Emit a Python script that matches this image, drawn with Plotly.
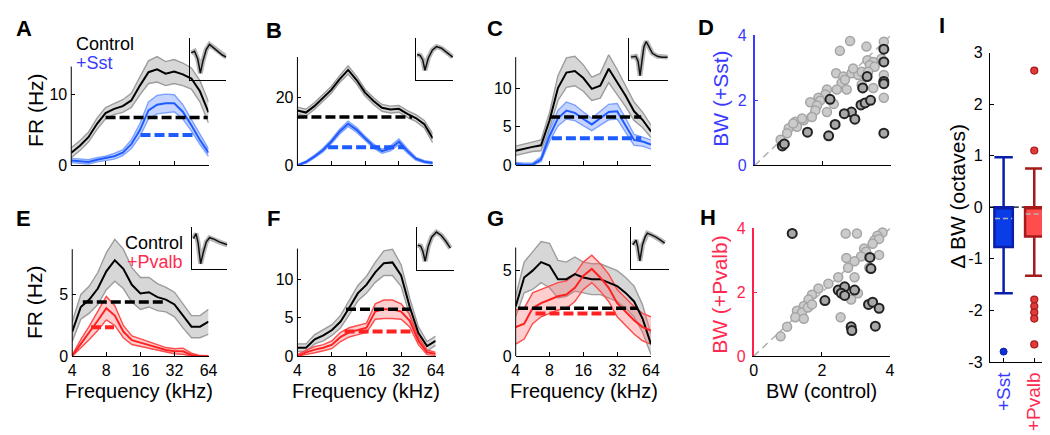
import plotly.graph_objects as go

W, H = 1050, 435
FONT = "Arial, Liberation Sans, Helvetica, sans-serif"

# ---------------- data ----------------
freq_khz = [4.0, 4.76, 5.66, 6.73, 8.0, 9.51, 11.31, 13.45, 16.0, 19.03, 22.63, 26.91, 32.0, 38.05, 45.25, 53.82, 64.0]
freq_ticks = [4, 8, 16, 32, 64]
freq_ticklabels = ["4", "8", "16", "32", "64"]

# Panel A (Control vs +Sst)
a_ctrl = [1.8, 2.8, 4.0, 5.9, 7.4, 8.0, 8.4, 9.2, 11.3, 13.2, 13.6, 13.0, 13.3, 12.9, 12.3, 10.5, 7.5]
a_ctrl_sem = [0.7, 0.7, 0.7, 0.8, 0.8, 0.8, 0.9, 1.0, 1.3, 1.6, 1.8, 1.7, 1.7, 1.6, 1.5, 1.5, 1.5]
a_sst = [0.7, 0.6, 0.5, 0.8, 1.0, 1.3, 1.8, 3.0, 5.0, 7.8, 8.6, 8.8, 8.8, 7.6, 5.7, 3.6, 1.8]
a_sst_sem = [0.3, 0.3, 0.3, 0.3, 0.3, 0.4, 0.4, 0.6, 0.9, 1.2, 1.3, 1.3, 1.2, 1.0, 0.8, 0.6, 0.5]
a_bw_ctrl_khz = [8.0, 63.0]
a_bw_ctrl_fr = 6.8
a_bw_sst_khz = [16.2, 48.5]
a_bw_sst_fr = 4.3

# Panel B
b_ctrl = [16.2, 15.6, 17.5, 19.8, 22.3, 25.5, 28.2, 25.2, 21.5, 19.0, 17.0, 16.5, 16.7, 15.2, 14.0, 12.2, 8.0]
b_ctrl_sem = [1.0, 1.0, 1.0, 1.0, 1.0, 1.0, 1.2, 1.1, 1.0, 1.0, 1.0, 1.0, 1.0, 1.0, 1.0, 1.1, 1.3]
b_sst = [0.0, 1.0, 2.6, 4.5, 7.0, 10.0, 12.3, 10.5, 8.0, 5.7, 4.2, 5.0, 7.0, 4.3, 2.0, 1.1, 0.7]
b_sst_sem = [0.2, 0.3, 0.4, 0.5, 0.6, 0.7, 0.8, 0.7, 0.6, 0.6, 0.6, 0.7, 0.8, 0.6, 0.4, 0.3, 0.3]
b_bw_ctrl_khz = [4.0, 41.9]
b_bw_ctrl_fr = 14.3
b_bw_sst_khz = [7.5, 35.5]
b_bw_sst_fr = 5.4

# Panel C
c_ctrl = [1.9, 2.2, 2.4, 2.6, 5.8, 10.0, 12.0, 12.2, 11.3, 9.9, 10.3, 12.5, 10.8, 9.0, 7.0, 5.9, 4.4]
c_ctrl_sem = [0.6, 0.6, 0.6, 0.7, 1.0, 1.6, 1.9, 1.9, 1.7, 1.5, 1.6, 1.8, 1.6, 1.4, 1.2, 1.0, 0.8]
c_sst = [0.2, 0.1, 0.1, 0.8, 3.8, 6.1, 7.1, 6.8, 6.0, 5.3, 6.1, 6.9, 7.0, 5.2, 3.3, 3.1, 2.7]
c_sst_sem = [0.2, 0.2, 0.2, 0.3, 0.7, 1.0, 1.1, 1.0, 0.9, 0.8, 0.9, 1.0, 1.0, 0.9, 0.7, 0.6, 0.6]
c_bw_ctrl_khz = [8.1, 52.4]
c_bw_ctrl_fr = 6.25
c_bw_sst_khz = [8.4, 52.4]
c_bw_sst_fr = 3.5

# Panel E (Control vs +Pvalb)
e_ctrl = [2.0, 4.0, 4.6, 5.5, 6.9, 7.8, 7.1, 5.8, 5.1, 5.2, 4.8, 4.6, 4.2, 3.3, 2.4, 2.4, 2.8]
e_ctrl_sem = [0.8, 1.0, 1.1, 1.3, 1.5, 1.7, 1.6, 1.4, 1.3, 1.2, 1.1, 1.0, 1.0, 1.0, 0.9, 0.9, 1.0]
e_pv = [0.05, 1.0, 1.9, 2.9, 3.9, 3.3, 2.0, 1.3, 1.1, 0.9, 0.7, 0.5, 0.4, 0.4, 0.1, 0.0, 0.0]
e_pv_sem = [0.05, 0.35, 0.55, 0.8, 0.95, 0.8, 0.5, 0.35, 0.3, 0.3, 0.25, 0.2, 0.2, 0.25, 0.15, 0.05, 0.03]
e_bw_ctrl_khz = [4.96, 27.3]
e_bw_ctrl_fr = 4.4
e_bw_pv_khz = [5.86, 9.36]
e_bw_pv_fr = 2.35

# Panel F
f_ctrl = [1.1, 1.1, 2.2, 2.7, 3.4, 4.5, 6.3, 8.2, 9.3, 10.9, 12.1, 12.2, 10.5, 6.4, 3.0, 1.3, 2.0]
f_ctrl_sem = [0.5, 0.5, 0.6, 0.7, 0.7, 0.8, 0.9, 1.0, 1.1, 1.3, 1.6, 1.7, 1.4, 1.1, 0.8, 0.6, 0.6]
f_pv = [0.0, 0.5, 0.85, 1.1, 1.5, 2.5, 3.1, 3.4, 3.7, 5.8, 6.1, 6.1, 5.8, 4.6, 2.0, 0.5, 0.3]
f_pv_sem = [0.2, 0.3, 0.4, 0.4, 0.5, 0.6, 0.6, 0.6, 0.6, 1.0, 1.2, 1.2, 1.0, 0.8, 0.5, 0.3, 0.2]
f_bw_ctrl_khz = [10.6, 38.6]
f_bw_ctrl_fr = 6.1
f_bw_pv_khz = [10.3, 38.6]
f_bw_pv_fr = 3.2

# Panel G
g_ctrl = [2.9, 4.6, 5.0, 5.5, 5.3, 4.5, 4.5, 4.8, 4.6, 4.5, 4.5, 4.3, 4.1, 3.7, 3.2, 2.2, 0.7]
g_ctrl_sem = [0.6, 0.9, 1.1, 1.2, 1.3, 1.1, 1.0, 1.0, 0.9, 0.9, 0.9, 0.9, 0.9, 0.9, 0.9, 0.8, 0.6]
g_pv = [1.7, 1.9, 2.8, 3.1, 3.3, 3.5, 3.6, 4.0, 4.7, 5.1, 4.6, 4.0, 3.1, 2.6, 2.1, 1.7, 1.5]
g_pv_sem = [1.0, 0.9, 0.9, 0.8, 0.8, 0.8, 0.8, 0.8, 0.8, 0.8, 0.8, 0.8, 0.8, 0.8, 0.8, 0.8, 0.8]
g_bw_ctrl_khz = [4.2, 48.8]
g_bw_ctrl_fr = 2.8
g_bw_pv_khz = [6.0, 32.4]
g_bw_pv_fr = 2.5

# Spike waveform insets (normalised time, normalised amplitude)
wf_a_t = [0.04, 0.13, 0.22, 0.29, 0.36, 0.45, 0.54, 0.64, 0.76, 0.89, 1.0]
wf_a_v = [0.65, 0.69, 0.50, 0.17, 0.46, 0.73, 0.85, 0.78, 0.69, 0.60, 0.55]
wf_b_t = [0.03, 0.11, 0.18, 0.24, 0.33, 0.44, 0.55, 0.68, 0.81, 0.91, 0.98]
wf_b_v = [0.61, 0.59, 0.49, 0.24, 0.53, 0.72, 0.80, 0.76, 0.67, 0.59, 0.55]
wf_c_t = [0.04, 0.17, 0.23, 0.28, 0.34, 0.38, 0.44, 0.51, 0.60, 0.73, 0.85, 1.0]
wf_c_v = [0.55, 0.57, 0.45, 0.11, 0.53, 0.79, 0.92, 0.79, 0.64, 0.57, 0.55, 0.55]
wf_e_t = [0.05, 0.12, 0.18, 0.25, 0.32, 0.41, 0.50, 0.64, 0.77, 0.91, 1.0]
wf_e_v = [0.73, 0.85, 0.62, 0.12, 0.38, 0.65, 0.75, 0.71, 0.65, 0.60, 0.58]
wf_f_t = [0.02, 0.10, 0.16, 0.22, 0.30, 0.39, 0.52, 0.65, 0.78, 0.89]
wf_f_v = [0.58, 0.56, 0.43, 0.20, 0.55, 0.77, 0.89, 0.81, 0.66, 0.51]
wf_g_t = [0.04, 0.13, 0.17, 0.23, 0.30, 0.37, 0.43, 0.52, 0.65, 0.78, 0.89]
wf_g_v = [0.58, 0.69, 0.54, 0.19, 0.58, 0.77, 0.86, 0.83, 0.77, 0.69, 0.62]

# Panel D scatter: BW control vs BW +Sst (octaves)
d_gray_x = [2.80, 3.28, 2.50, 3.79, 3.31, 3.48, 3.38, 3.52, 2.39, 2.60, 2.84, 3.04, 3.14, 3.79, 3.79, 2.55,
            3.48, 2.12, 2.41, 2.70, 2.07, 1.87, 1.63, 1.92, 1.83, 2.32, 2.12, 1.78, 1.44, 1.68, 1.19, 1.00,
            1.24, 0.95, 0.76, 3.79, 3.33, 2.65, 2.89, 1.13, 1.39, 3.72, 3.14]
d_gray_y = [3.82, 3.65, 3.52, 3.80, 3.23, 3.18, 3.08, 3.03, 2.83, 2.73, 2.83, 2.78, 2.88, 2.78, 2.58, 2.53,
            2.38, 2.33, 2.33, 2.33, 2.18, 2.08, 1.94, 1.99, 1.84, 1.89, 1.64, 1.69, 1.39, 1.49, 1.34, 1.14,
            1.19, 0.99, 0.79, 2.08, 2.88, 2.63, 2.98, 1.29, 1.44, 3.28, 2.48]
d_black_x = [3.79, 3.79, 3.30, 3.79, 3.79, 2.21, 3.17, 3.12, 3.24, 3.40, 2.84, 2.63, 2.94, 2.36, 1.55, 2.17, 3.79, 0.81, 0.87]
d_black_y = [3.57, 3.18, 2.73, 2.58, 2.51, 2.03, 2.38, 1.86, 1.92, 2.00, 1.64, 1.59, 1.42, 1.26, 1.02, 0.91, 0.99, 0.60, 0.66]

# Panel H scatter: BW control vs BW +Pvalb (octaves)
h_gray_x = [2.70, 3.03, 3.78, 3.63, 3.54, 3.68, 3.49, 3.24, 3.30, 3.15, 3.68, 2.72, 2.96, 2.77, 2.96, 2.48,
            2.19, 1.90, 2.62, 3.06, 1.71, 1.61, 1.47, 1.27, 1.42, 1.59, 1.71, 1.22, 1.47, 0.98, 0.79, 2.55,
            2.86, 3.39]
h_gray_y = [3.84, 3.84, 3.87, 3.77, 3.62, 3.67, 3.52, 3.37, 3.27, 3.12, 3.17, 3.07, 2.97, 2.77, 2.47, 2.47,
            2.27, 2.12, 2.12, 1.97, 1.92, 1.77, 1.57, 1.42, 1.37, 1.52, 1.62, 1.22, 1.17, 0.92, 0.62, 1.22,
            1.77, 2.77]
h_black_x = [1.13, 3.41, 3.44, 2.09, 2.48, 2.67, 2.57, 2.67, 2.96, 3.37, 3.49, 3.68, 2.86, 2.88, 3.57]
h_black_y = [3.84, 3.09, 2.74, 1.74, 2.07, 2.17, 1.97, 1.90, 2.07, 1.62, 1.69, 1.50, 0.92, 0.80, 0.94]
unity_line = [0, 4]

# Panel I: change in bandwidth (octaves), box summaries
box_groups = ["+Sst", "+Pvalb"]
box_pos = [1, 2]
box_q1 = [-0.77, -0.57]
box_median = [-0.22, -0.13]
box_q3 = [0.0, 0.0]
box_low = [-1.67, -1.33]
box_high = [0.97, 0.75]
sst_outliers = [-2.8]
pv_outliers = [2.65, 1.1, -1.79, -1.92, -2.04, -2.16, -2.66]

# ---------------- styling ----------------
BLACK = "#000000"
CTRL_FILL = "rgba(175,175,175,0.5)"
CTRL_EDGE = "#9c9c9c"
SST = "#1f5cff"
SST_FILL = "rgba(110,150,255,0.40)"
SST_EDGE = "#7ea0ff"
PV = "#ff2222"
PV_FILL = "rgba(255,110,110,0.33)"
PV_EDGE = "#ff4a4a"
SST_TXT = "#3a3aff"
PV_TXT = "#ff2a50"

fig = go.Figure()


def ref(n, kind):
    return kind if n == 1 else f"{kind}{n}"


def xdom(p0, p1):
    return [p0 / W, p1 / W]


def ydom(ptop, pbot):
    return [1 - pbot / H, 1 - ptop / H]


shapes = []
layout_axes = {}


def tuning_panel(n, xpx, y0px, scale, axis_top, range_top, yticks, show_xlabels,
                 ctrl, ctrl_sem, manip, manip_sem, mcol, mfill, medge,
                 bw_ctrl, bw_ctrl_lvl, bw_m, bw_m_lvl):
    xa, ya = ref(n, "x"), ref(n, "y")
    top_px = y0px - range_top * scale
    layout_axes["xaxis" if n == 1 else f"xaxis{n}"] = dict(
        domain=xdom(*xpx), anchor=ya, type="log", range=[0.60206, 1.80618],
        showline=True, linecolor="black", linewidth=1, mirror=False,
        ticks="inside", ticklen=4, tickcolor="black",
        tickvals=freq_ticks if show_xlabels else [8, 16, 32],
        ticktext=freq_ticklabels if show_xlabels else ["", "", ""],
        showticklabels=show_xlabels, showgrid=False, zeroline=False,
        tickfont=dict(size=16, color="black", family=FONT), ticklabelstandoff=0,
    )
    layout_axes["yaxis" if n == 1 else f"yaxis{n}"] = dict(
        domain=ydom(top_px, y0px), anchor=xa, range=[0, range_top],
        showline=False, ticks="inside", ticklen=4, tickcolor="black",
        tickvals=yticks, showgrid=False, zeroline=False,
        tickfont=dict(size=16, color="black", family=FONT), ticklabelstandoff=3,
    )
    shapes.append(dict(type="line", xref=f"{xa} domain", yref=ya, x0=0, x1=0, y0=0, y1=axis_top,
                       line=dict(color="black", width=1)))
    for mean, sem, fillc, edgec in [(ctrl, ctrl_sem, CTRL_FILL, CTRL_EDGE), (manip, manip_sem, mfill, medge)]:
        up = [m + s for m, s in zip(mean, sem)]
        lo = [max(m - s, 0) for m, s in zip(mean, sem)]
        fig.add_trace(go.Scatter(x=freq_khz + freq_khz[::-1], y=up + lo[::-1], fill="toself",
                                 fillcolor=fillc, line=dict(width=0), mode="lines",
                                 xaxis=xa, yaxis=ya, hoverinfo="skip", showlegend=False))
        for edge in (up, lo):
            fig.add_trace(go.Scatter(x=freq_khz, y=edge, mode="lines", line=dict(color=edgec, width=1.4),
                                     xaxis=xa, yaxis=ya, hoverinfo="skip", showlegend=False))
    fig.add_trace(go.Scatter(x=freq_khz, y=ctrl, mode="lines", line=dict(color=BLACK, width=2),
                             xaxis=xa, yaxis=ya, showlegend=False))
    fig.add_trace(go.Scatter(x=freq_khz, y=manip, mode="lines", line=dict(color=mcol, width=2),
                             xaxis=xa, yaxis=ya, showlegend=False))
    fig.add_trace(go.Scatter(x=bw_ctrl, y=[bw_ctrl_lvl] * 2, mode="lines",
                             line=dict(color=BLACK, width=3.5, dash="10px,4px"),
                             xaxis=xa, yaxis=ya, showlegend=False))
    fig.add_trace(go.Scatter(x=bw_m, y=[bw_m_lvl] * 2, mode="lines",
                             line=dict(color=mcol, width=4, dash="10px,4px"),
                             xaxis=xa, yaxis=ya, showlegend=False))


tuning_panel(1, (60, 199), 155.5, 7.35, 14, 16, [0, 10], False, a_ctrl, a_ctrl_sem, a_sst, a_sst_sem,
             SST, SST_FILL, SST_EDGE, a_bw_ctrl_khz, a_bw_ctrl_fr, a_bw_sst_khz, a_bw_sst_fr)
tuning_panel(2, (289, 426), 155.5, 3.525, 32, 32, [0, 20], False, b_ctrl, b_ctrl_sem, b_sst, b_sst_sem,
             SST, SST_FILL, SST_EDGE, b_bw_ctrl_khz, b_bw_ctrl_fr, b_bw_sst_khz, b_bw_sst_fr)
tuning_panel(3, (510, 647), 155.5, 8.05, 14, 14.6, [0, 5, 10], False, c_ctrl, c_ctrl_sem, c_sst, c_sst_sem,
             SST, SST_FILL, SST_EDGE, c_bw_ctrl_khz, c_bw_ctrl_fr, c_bw_sst_khz, c_bw_sst_fr)
tuning_panel(4, (61, 199), 354, 12.8, 8.7, 9.8, [0, 5], True, e_ctrl, e_ctrl_sem, e_pv, e_pv_sem,
             PV, PV_FILL, PV_EDGE, e_bw_ctrl_khz, e_bw_ctrl_fr, e_bw_pv_khz, e_bw_pv_fr)
tuning_panel(5, (289, 429), 354, 8.0, 14, 14.6, [0, 5, 10], True, f_ctrl, f_ctrl_sem, f_pv, f_pv_sem,
             PV, PV_FILL, PV_EDGE, f_bw_ctrl_khz, f_bw_ctrl_fr, f_bw_pv_khz, f_bw_pv_fr)
tuning_panel(6, (510, 647), 354, 17.8, 6.35, 7.0, [0, 5], True, g_ctrl, g_ctrl_sem, g_pv, g_pv_sem,
             PV, PV_FILL, PV_EDGE, g_bw_ctrl_khz, g_bw_ctrl_fr, g_bw_pv_khz, g_bw_pv_fr)


# ---------- scatter panels D (7) and H (8) ----------
def scatter_panel(n, xpx, ypx, ycol, show_xlabels, gx, gy, bx, by):
    xa, ya = ref(n, "x"), ref(n, "y")
    layout_axes[f"xaxis{n}"] = dict(
        domain=xdom(*xpx), anchor=ya, range=[0, 4], showline=True, linecolor="black", linewidth=1,
        ticks="inside", ticklen=4, tickcolor="black", tickvals=[0, 2, 4], showticklabels=show_xlabels,
        showgrid=False, zeroline=False, tickfont=dict(size=16, color="black", family=FONT),
        ticklabelstandoff=0)
    layout_axes[f"yaxis{n}"] = dict(
        domain=ydom(*ypx), anchor=xa, range=[0, 4], showline=True, linecolor=ycol, linewidth=1.5,
        ticks="inside", ticklen=4, tickcolor=ycol, tickvals=[0, 2, 4], showgrid=False, zeroline=False,
        tickfont=dict(size=16, color=ycol, family=FONT), ticklabelstandoff=3)
    fig.add_trace(go.Scatter(x=unity_line, y=unity_line, mode="lines",
                             line=dict(color="#b0b0b0", width=1.5, dash="7px,5px"),
                             xaxis=xa, yaxis=ya, showlegend=False, hoverinfo="skip"))
    fig.add_trace(go.Scatter(x=gx, y=gy, mode="markers",
                             marker=dict(size=9, color="#cbcbcb", line=dict(color="#a4a4a4", width=1.5)),
                             xaxis=xa, yaxis=ya, showlegend=False, cliponaxis=False))
    fig.add_trace(go.Scatter(x=bx, y=by, mode="markers",
                             marker=dict(size=9, color="#a8a8a8", line=dict(color="#222222", width=2)),
                             xaxis=xa, yaxis=ya, showlegend=False, cliponaxis=False))


scatter_panel(7, (752, 890), (20, 155.5), SST_TXT, False, d_gray_x, d_gray_y, d_black_x, d_black_y)
scatter_panel(8, (751, 889), (221, 354), "#ff1f4f", True, h_gray_x, h_gray_y, h_black_x, h_black_y)

# ---------- panel I (9): box plots ----------
layout_axes["xaxis9"] = dict(
    domain=xdom(990, 1050), anchor="y9", range=[0.548, 2.48], showline=True, linecolor="black",
    linewidth=1, ticks="inside", ticklen=4, tickcolor="black", tickvals=box_pos,
    ticktext=[f"<span style='color:{SST_TXT}'>{box_groups[0]}</span>",
              f"<span style='color:{PV_TXT}'>{box_groups[1]}</span>"],
    tickangle=-90, showgrid=False, zeroline=False, tickfont=dict(size=19, family=FONT),
    ticklabelstandoff=2)
layout_axes["yaxis9"] = dict(
    domain=ydom(38, 360), anchor="x9", range=[-3, 3], showline=True, linecolor="black", linewidth=1,
    ticks="inside", ticklen=4, tickcolor="black", tickvals=[-3, -2, -1, 0, 1, 2, 3],
    ticktext=["-3", "-2", "-1", "0", "1", "2", "3"], showgrid=False, zeroline=False,
    tickfont=dict(size=16, color="black", family=FONT), ticklabelstandoff=3)
shapes.append(dict(type="line", xref="x9 domain", yref="y9", x0=0, x1=1, y0=0, y1=0, layer="below",
                   line=dict(color="black", width=1.2, dash="5px,3px")))

box_fill = ["#0a3ce8", "#ff4d4d"]
box_edge = ["#0a1fa6", "#a51a1a"]
for i in range(2):
    fig.add_trace(go.Box(x=[box_pos[i]], q1=[box_q1[i]], median=[box_q3[i]], q3=[box_q3[i]],
                         lowerfence=[box_low[i]], upperfence=[box_high[i]], width=0.6,
                         whiskerwidth=1, fillcolor=box_fill[i], line=dict(color=box_edge[i], width=2.5),
                         boxpoints=False, xaxis="x9", yaxis="y9", showlegend=False))
    fig.add_trace(go.Scatter(x=[box_pos[i] - 0.28, box_pos[i] + 0.28], y=[box_median[i]] * 2, mode="lines",
                             line=dict(color="#b4b4b4", width=1.5, dash="5px,3px"),
                             xaxis="x9", yaxis="y9", showlegend=False))
fig.add_trace(go.Scatter(x=[box_pos[0]] * len(sst_outliers), y=sst_outliers, mode="markers",
                         marker=dict(size=7, color="#1030d8", line=dict(color="#0a1fa6", width=1)),
                         xaxis="x9", yaxis="y9", showlegend=False, cliponaxis=False))
fig.add_trace(go.Scatter(x=[box_pos[1]] * len(pv_outliers), y=pv_outliers, mode="markers",
                         marker=dict(size=7, color="#e03a3a", line=dict(color="#a51a1a", width=1.2)),
                         xaxis="x9", yaxis="y9", showlegend=False, cliponaxis=False))

# ---------- waveform insets (10..15) ----------
insets = [
    (10, (180, 217), (23, 67), wf_a_t, wf_a_v),
    (11, (409, 447), (23, 67), wf_b_t, wf_b_v),
    (12, (625, 664), (23, 67), wf_c_t, wf_c_v),
    (13, (182, 218), (220, 263), wf_e_t, wf_e_v),
    (14, (410, 448), (220, 264), wf_f_t, wf_f_v),
    (15, (627, 665), (220, 263), wf_g_t, wf_g_v),
]
for n, xp, yp, t, v in insets:
    layout_axes[f"xaxis{n}"] = dict(domain=xdom(*xp), anchor=f"y{n}", range=[0, 1], showline=True,
                                    linecolor="black", linewidth=1, ticks="", showticklabels=False,
                                    showgrid=False, zeroline=False)
    layout_axes[f"yaxis{n}"] = dict(domain=ydom(*yp), anchor=f"x{n}", range=[0, 1], showline=True,
                                    linecolor="black", linewidth=1, ticks="", showticklabels=False,
                                    showgrid=False, zeroline=False)
    fig.add_trace(go.Scatter(x=t, y=v, mode="lines", line=dict(color="#b8b8b8", width=5),
                             xaxis=f"x{n}", yaxis=f"y{n}", showlegend=False, hoverinfo="skip"))
    fig.add_trace(go.Scatter(x=t, y=v, mode="lines", line=dict(color="#111111", width=1.5),
                             xaxis=f"x{n}", yaxis=f"y{n}", showlegend=False))

# ---------- text ----------
annotations = []


def txt(s, xp, yp, size, color="black", bold=False, xanchor="center", angle=0):
    annotations.append(dict(text=f"<b>{s}</b>" if bold else s, x=xp / W, y=1 - yp / H, xref="paper",
                            yref="paper", showarrow=False, xanchor=xanchor, yanchor="middle",
                            textangle=angle, font=dict(size=size, color=color, family=FONT),
                            borderpad=0))


for letter, xp, yp in [("A", 12, 13), ("B", 265, 15), ("C", 489, 13), ("D", 703, 12), ("E", 12, 211),
                       ("F", 265, 211), ("G", 490, 211), ("H", 705, 210), ("I", 942, 10)]:
    txt(letter, xp, yp, 22, bold=True)

txt("Control", 64, 29, 18, xanchor="left")
txt("+Sst", 64, 49, 18, color=SST_TXT, xanchor="left")
txt("Control", 174, 236, 18, xanchor="right")
txt("+Pvalb", 174, 256, 18, color=PV_TXT, xanchor="right")
txt("FR (Hz)", 23, 98, 21, angle=-90)
txt("FR (Hz)", 23, 298, 21, angle=-90)
txt("BW (+Sst)", 718, 86, 21, color=SST_TXT, angle=-90)
txt("BW (+Pvalb)", 717, 290, 21, color=PV_TXT, angle=-90)
for xp in (129, 358, 579):
    txt("Frequency (kHz)", xp, 390, 20)
txt("BW (control)", 820, 390, 20)
txt("\u0394 BW (octaves)", 958, 188, 21, angle=-90)

fig.update_layout(
    width=W, height=H, margin=dict(l=0, r=0, t=0, b=0), paper_bgcolor="white", plot_bgcolor="rgba(0,0,0,0)",
    showlegend=False, shapes=shapes, annotations=annotations, font=dict(family=FONT),
    **layout_axes,
)

fig.write_html("out.html")
